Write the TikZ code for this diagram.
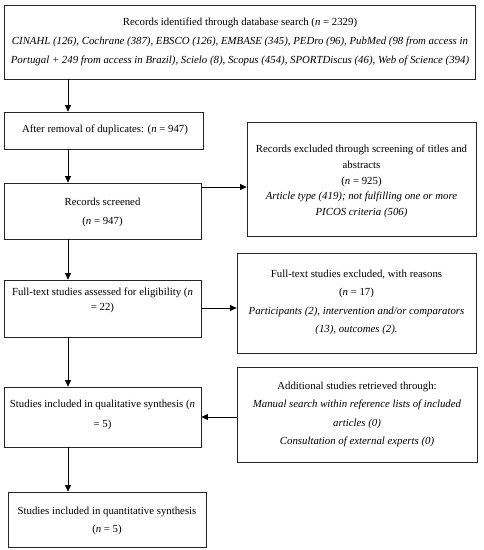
\documentclass[tikz,border=0pt]{standalone}
\usepackage{fontspec}
\setmainfont{Liberation Serif}
\usetikzlibrary{arrows.meta}
\begin{document}
\begin{tikzpicture}[x=1pt,y=-1pt,
  box/.style={draw=black!85,line width=0.8pt,inner sep=0pt,rectangle},
  txt/.style={align=center,inner sep=0pt},
  arr/.style={draw=black,line width=0.8pt,-{Triangle[length=6.5pt,width=6pt]}}]
\useasboundingbox (0,0) rectangle (484,550);
% boxes
\node[box,minimum width=471pt,minimum height=74pt] (b1) at (239.5,42) {};
\node[box,minimum width=199pt,minimum height=37pt] (b2) at (103.5,130.5) {};
\node[box,minimum width=197pt,minimum height=56pt] (b3) at (102.5,211) {};
\node[box,minimum width=229pt,minimum height=114pt] (b4) at (361.5,179) {};
\node[box,minimum width=197pt,minimum height=57pt] (b5) at (102.5,308.5) {};
\node[box,minimum width=239pt,minimum height=100pt] (b6) at (356.5,303) {};
\node[box,minimum width=197pt,minimum height=60pt] (b7) at (102.5,417) {};
\node[box,minimum width=240pt,minimum height=95pt] (b8) at (357,414.5) {};
\node[box,minimum width=198pt,minimum height=55pt] (b9) at (107,519.5) {};
% texts
\node[txt,font=\fontsize{10.8}{19}\selectfont] (t1) at (240,42) {Records identified through database search (\textit{n} = 2329)\\
\textit{CINAHL (126), Cochrane (387), EBSCO (126), EMBASE (345), PEDro (96), PubMed (98 from access in}\\
\textit{Portugal + 249 from access in Brazil), Scielo (8), Scopus (454), SPORTDiscus (46), Web of Science (394)}};
\node[txt,font=\fontsize{10.8}{19}\selectfont] (t2) at (105,130) {After removal of duplicates: (\textit{n} = 947)};
\node[txt,font=\fontsize{10.8}{19}\selectfont] (t3) at (102.5,212.5) {Records screened\\(\textit{n} = 947)};
\node[txt,font=\fontsize{10.8}{15.75}\selectfont] (t4) at (361.5,181.5) {Records excluded through screening of titles and\\
abstracts\\(\textit{n} = 925)\\
\textit{Article type (419); not fulfilling one or more}\\
\textit{PICOS criteria (506)}};
\node[txt,font=\fontsize{10.8}{15.5}\selectfont] (t5) at (102.5,300.5) {Full-text studies assessed for eligibility (\textit{n}\\= 22)};
\node[txt,font=\fontsize{10.8}{18.3}\selectfont] (t6) at (356.5,302.5) {Full-text studies excluded, with reasons\\
(\textit{n} = 17)\\
\textit{Participants (2), intervention and/or comparators}\\
\textit{(13), outcomes (2).}};
\node[txt,font=\fontsize{10.8}{20}\selectfont] (t7) at (102.5,415) {Studies included in qualitative synthesis (\textit{n}\\= 5)};
\node[txt,font=\fontsize{10.8}{18.5}\selectfont] (t8) at (357,414.5) {Additional studies retrieved through:\\
\textit{Manual search within reference lists of included}\\
\textit{articles (0)}\\
\textit{Consultation of external experts (0)}};
\node[txt,font=\fontsize{10.8}{18}\selectfont] (t9) at (107,521) {Studies included in quantitative synthesis\\(\textit{n} = 5)};
% connectors
\coordinate (cx) at (68,0);
\coordinate (h1) at (0,187);
\coordinate (h2) at (0,308);
\coordinate (h3) at (0,417);
\draw[arr] (b1.south -| cx) -- (b2.north -| cx);
\draw[arr] (b2.south -| cx) -- (b3.north -| cx);
\draw[arr] (b3.south -| cx) -- (b5.north -| cx);
\draw[arr] (b5.south -| cx) -- (b7.north -| cx);
\draw[arr] (b7.south -| cx) -- (b9.north -| cx);
\draw[arr] (b3.east |- h1) -- (b4.west |- h1);
\draw[arr] (b5.east |- h2) -- (b6.west |- h2);
\draw[arr] (b8.west |- h3) -- (b7.east |- h3);
\end{tikzpicture}
\end{document}
